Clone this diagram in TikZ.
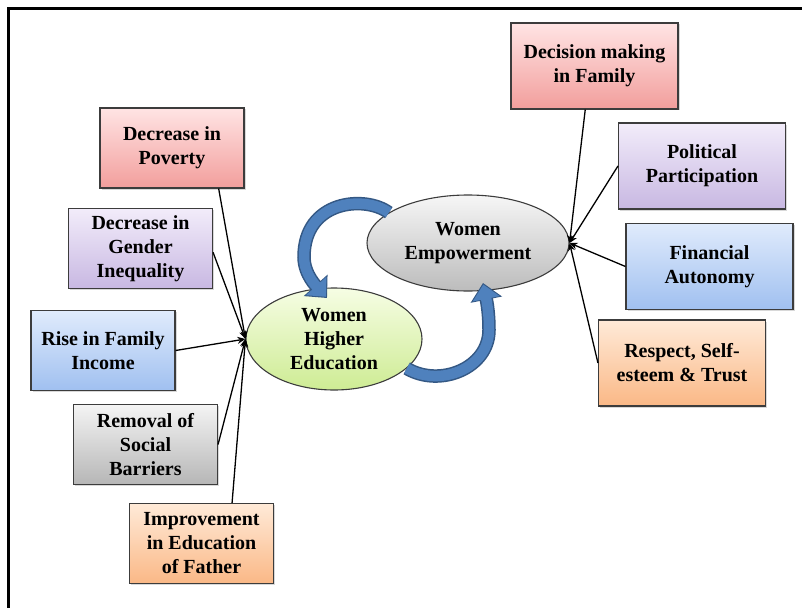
\documentclass[tikz,border=0pt]{standalone}
\usepackage{fontspec}
\setmainfont{Liberation Serif}
\usetikzlibrary{arrows.meta,shadows,shapes.geometric,calc}
\definecolor{pinkT}{RGB}{255,228,228}
\definecolor{pinkB}{RGB}{242,158,156}
\definecolor{purpT}{RGB}{242,236,250}
\definecolor{purpB}{RGB}{200,184,226}
\definecolor{blueT}{RGB}{224,235,252}
\definecolor{blueB}{RGB}{160,192,240}
\definecolor{grayT}{RGB}{244,244,244}
\definecolor{grayB}{RGB}{182,182,182}
\definecolor{oranT}{RGB}{255,234,216}
\definecolor{oranB}{RGB}{250,184,134}
\definecolor{weT}{RGB}{246,246,246}
\definecolor{weB}{RGB}{188,188,188}
\definecolor{wheT}{RGB}{246,253,228}
\definecolor{wheB}{RGB}{206,236,148}
\definecolor{edge}{RGB}{60,60,60}
\definecolor{bluefill}{RGB}{79,129,189}
\definecolor{bluedark}{RGB}{52,88,132}
\begin{document}
\begin{tikzpicture}[x=1pt,y=-1pt,
  txt/.style={font=\fontsize{20}{24}\selectfont\bfseries, align=center, text=black},
  box/.style={txt, draw=edge, line width=1.1pt, inner sep=0pt,
    drop shadow={shadow xshift=1.5pt, shadow yshift=-1.5pt, opacity=0.3}},
  boxA/.style={box, minimum width=144, minimum height=80},
  boxB/.style={box, minimum width=167, minimum height=86},
  oval/.style={txt, ellipse, draw=edge, line width=1.1pt, inner sep=0pt},
  conn/.style={draw=black, line width=1.3pt, -{Stealth[length=8pt,width=7pt]}},
  bluebd/.style={draw=bluedark, line width=13.5pt, -{Triangle[length=17pt,width=31pt]}},
  bluefl/.style={draw=bluefill, line width=10.5pt, shorten >=1.6pt, -{Triangle[length=14.5pt,width=26.5pt]}}]
\clip (0,0) rectangle (802,607);
\fill[white] (0,0) rectangle (802,607);
\draw[line width=3pt] (8.5,8.5) rectangle (830,640);

% left boxes
\node[boxA, top color=pinkT, bottom color=pinkB] (pov) at (172,148) {Decrease in\\Poverty};
\node[boxA, top color=purpT, bottom color=purpB] (gen) at (140.5,248.5) {Decrease in\\Gender\\Inequality};
\node[boxA, top color=blueT, bottom color=blueB] (inc) at (103,350.5) {Rise in Family\\Income};
\node[boxA, top color=grayT, bottom color=grayB] (rem) at (145.5,444.5) {Removal of\\Social\\Barriers};
\node[boxA, top color=oranT, bottom color=oranB] (fat) at (201.5,543.5) {Improvement\\in Education\\of Father};

% right boxes
\node[boxB, top color=pinkT, bottom color=pinkB] (dec) at (594.5,66) {Decision making\\in Family};
\node[boxB, top color=purpT, bottom color=purpB] (pol) at (702,166) {Political\\Participation};
\node[boxB, top color=blueT, bottom color=blueB] (fin) at (709.5,266.5) {Financial\\Autonomy};
\node[boxB, top color=oranT, bottom color=oranB] (res) at (682,363) {Respect, Self-\\esteem \& Trust};

% ellipses
\node[oval, minimum width=202, minimum height=96, top color=weT, bottom color=weB] (we) at (468,243) {Women\\Empowerment};
\node[oval, minimum width=176, minimum height=102, top color=wheT, bottom color=wheB] (whe) at (334,339) {Women\\Higher\\Education};

% connectors
\draw[conn] (pov.-41) -- (whe.west);
\draw[conn] (gen.-3) -- (whe.west);
\draw[conn] (inc.east) -- (whe.west);
\draw[conn] (rem.east) -- (whe.west);
\draw[conn] (fat.53) -- (whe.west);
\draw[conn] (dec.-102) -- (we.east);
\draw[conn] (pol.west) -- (we.east);
\draw[conn] (fin.west) -- (we.east);
\draw[conn] (res.west) -- (we.east);

% blue curved arrows
\coordinate (t1) at (327,298);
\coordinate (t2) at (483,283);
\draw[bluebd] (we.159) .. controls (365,195) and (304,200) .. (304,257) .. controls (304,275) and (318,288) .. (t1);
\draw[bluefl] (we.159) .. controls (365,195) and (304,200) .. (304,257) .. controls (304,275) and (318,288) .. (t1);
\draw[bluebd] (whe.-22) .. controls (440,388) and (489,368) .. (489,330) .. controls (489,310) and (486,298) .. (t2);
\draw[bluefl] (whe.-22) .. controls (440,388) and (489,368) .. (489,330) .. controls (489,310) and (486,298) .. (t2);
\end{tikzpicture}
\end{document}
